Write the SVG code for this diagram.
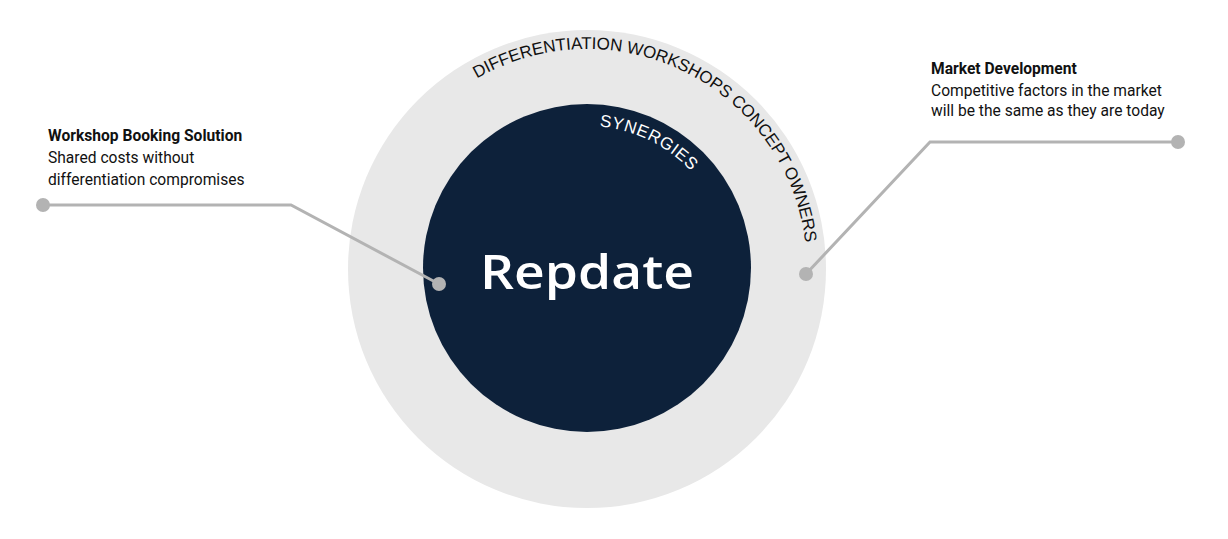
<svg xmlns="http://www.w3.org/2000/svg" width="1228" height="539" viewBox="0 0 1228 539">
<style>
.lbl{font-family:Roboto,"Liberation Sans",sans-serif;font-size:15.6px;fill:#111}
.b{font-weight:bold}
.arc{font-family:"Liberation Sans",Arial,sans-serif;font-size:17px}
.ln{fill:none;stroke:#b3b3b3;stroke-width:3}
.dot{fill:#b3b3b3}
</style>
<defs>
<path id="po" d="M477,78.5 A220,220 0 0 1 807,269"/>
<path id="pi" d="M599.5,126.5 A143,143 0 0 1 710.8,197.5"/>
</defs>
<rect width="1228" height="539" fill="#fff"/>
<g id="outer"><circle cx="587" cy="269" r="239" fill="#e8e8e8"/>
<text class="arc" fill="#111"><textPath href="#po" textLength="434" lengthAdjust="spacing">DIFFERENTIATION WORKSHOPS CONCEPT OWNERS</textPath></text></g>
<g id="inner"><circle cx="587" cy="268" r="164" fill="#0d213a"/>
<text class="arc" fill="#fff"><textPath href="#pi" textLength="104" lengthAdjust="spacing">SYNERGIES</textPath></text>
<text x="480" y="289" textLength="214" lengthAdjust="spacingAndGlyphs" font-family="'Open Sans',sans-serif" font-weight="600" font-size="47" fill="#fff">Repdate</text></g>
<g id="connectors">
<polyline class="ln" points="43,205 291,205 439,284"/>
<circle class="dot" cx="43" cy="205" r="7"/><circle class="dot" cx="439" cy="284" r="7"/>
<polyline class="ln" points="1178,142 930,142 806,274"/>
<circle class="dot" cx="1178" cy="142" r="7"/><circle class="dot" cx="806" cy="274" r="7"/>
</g>
<g id="left-label"><text class="lbl b" x="48" y="141">Workshop Booking Solution</text>
<text class="lbl" x="48" y="163">Shared costs without</text>
<text class="lbl" x="48" y="185">differentiation compromises</text></g>
<g id="right-label"><text class="lbl b" x="931" y="74">Market Development</text>
<text class="lbl" x="931" y="96">Competitive factors in the market</text>
<text class="lbl" x="931" y="116">will be the same as they are today</text></g>
</svg>
